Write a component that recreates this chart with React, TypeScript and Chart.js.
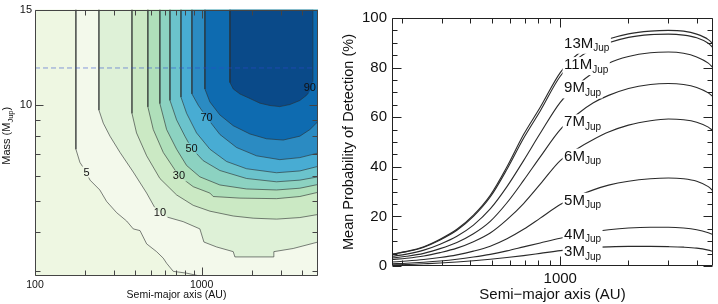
import React, { useEffect, useRef } from "react";
import { Chart, registerables } from "chart.js";

Chart.register(...registerables);

const FONT = "'Liberation Sans', Arial, Helvetica, sans-serif";

// ================= LEFT PANEL (contour map) =================
const leftAURange = [100, 5000];
const leftMassRange = [2.9, 20];
const leftXTickValues = [100, 1000];
const leftXTickLabels = ["100", "1000"];
const leftXMinorTicks = [200, 300, 400, 500, 600, 700, 800, 900, 2000, 3000, 4000];
const leftYTickValues = [10, 20];
const leftYTickLabels = ["10", "15"];
const leftYMinorTicks = [3, 4, 5, 6, 7, 8, 9];

const contourLevels = [5, 10, 20, 30, 40, 50, 60, 70, 80, 90];
const bandBaseColor = "#eef7e2";
const bandColors = [
  "#f3f9eb", "#def1d7", "#cbe9c4", "#afdfba", "#8cd2c1",
  "#6bc3cc", "#48acd3", "#2b8bc2", "#0e6bb0", "#0a4a89",
];

// contour boundaries: [semi-major axis (AU), mass (M_Jup)]
const contour5 = [[176, 20], [176, 7.27], [186, 6.61], [200, 6.23], [214, 5.81], [245, 5.41], [269, 4.98], [309, 4.59], [355, 4.32], [389, 4.08], [427, 4.03], [468, 3.66], [537, 3.46], [589, 3.3], [617, 3.18], [676, 3.0], [813, 2.96], [977, 2.9], [5000, 2.9]];
const contour10 = [[242, 20], [242, 9.65], [257, 8.78], [282, 7.99], [324, 7.1], [389, 6.16], [468, 5.29], [525, 4.75], [617, 4.45], [776, 4.3], [977, 4.08], [1033, 3.71], [1230, 3.58], [1549, 3.46], [1585, 3.33], [2692, 3.33], [2716, 3.46], [3548, 3.54], [5000, 3.71]];
const contour20 = [[382, 20], [382, 9.43], [407, 8.18], [468, 6.93], [562, 5.88], [708, 5.22], [891, 4.84], [1122, 4.64], [1549, 4.48], [2042, 4.41], [2818, 4.38], [3890, 4.43], [5000, 4.53]];
const contour30 = [[476, 20], [476, 9.88], [513, 8.38], [589, 7.1], [731, 5.99], [891, 5.54], [1122, 5.29], [1175, 5.16], [1698, 5.1], [2818, 5.08], [3890, 5.16], [5000, 5.32]];
const contour40 = [[562, 20], [562, 10.12], [617, 8.38], [708, 7.27], [813, 6.46], [977, 5.95], [1288, 5.61], [1862, 5.45], [2818, 5.41], [3890, 5.48], [5000, 5.63]];
const contour50 = [[646, 20], [646, 10.36], [708, 8.99], [794, 7.99], [871, 7.32], [1023, 6.69], [1288, 6.23], [1862, 5.88], [2818, 5.74], [3890, 5.81], [5000, 5.95]];
const contour60 = [[752, 20], [752, 10.61], [813, 9.43], [933, 8.18], [1122, 7.27], [1413, 6.65], [1862, 6.31], [2818, 6.13], [3890, 6.21], [5000, 6.42]];
const contour70 = [[875, 20], [875, 10.86], [955, 10.0], [1072, 9.16], [1288, 8.09], [1622, 7.36], [2138, 6.93], [2951, 6.74], [3890, 6.84], [5000, 7.07]];
const contour80 = [[1047, 20], [1047, 11.25], [1122, 10.24], [1288, 9.32], [1549, 8.62], [1950, 8.12], [2455, 7.84], [3090, 7.77], [3890, 7.99], [4467, 8.38], [5000, 8.89]];
const contour90 = [[1480, 20], [1480, 11.8], [1550, 11.25], [1700, 10.85], [1950, 10.5], [2240, 10.15], [2570, 9.98], [2950, 9.9], [3390, 10.05], [3890, 10.35], [4270, 10.75], [4570, 11.25], [4660, 11.9], [4660, 20]];
const contours = [contour5, contour10, contour20, contour30, contour40, contour50, contour60, contour70, contour80, contour90];

const contourLabelText = ["5", "10", "30", "50", "70", "90"];
const contourLabelAU = [204, 562, 731, 871, 1072, 4467];
const contourLabelMass = [6.16, 4.59, 5.99, 7.32, 9.16, 11.4];

const deuteriumMass = 13.1;

// ================= RIGHT PANEL (mean probability) =================
const rightAURange = [181, 4720];
const rightXTickValues = [1000];
const rightXTickLabels = ["1000"];
const rightXMinorTicks = [200, 300, 400, 500, 600, 700, 800, 900, 2000, 3000, 4000];
const rightYTickValues = [0, 20, 40, 60, 80, 100];
const rightYMinorTicks = [5, 10, 15, 25, 30, 35, 45, 50, 55, 65, 70, 75, 85, 90, 95];

const semiMajorAxis = [181, 210, 250, 295, 350, 414, 491, 582, 689, 816, 1000, 1200, 1400, 1634, 2000, 2500, 3000, 3500, 4000, 4500, 4720];
const prob13 = [4.8, 5.9, 7.8, 10.8, 14.8, 20.5, 28.5, 40, 53, 64, 78, 85.6, 89.2, 91.5, 93.6, 94.7, 95, 94.7, 93.5, 91.3, 89.5];
const prob11 = [4.7, 5.8, 7.6, 10.5, 14.4, 20, 27.8, 39, 51.5, 62.5, 76.5, 83.8, 87.6, 90, 92.2, 93.3, 93.5, 93.1, 92, 89.8, 88];
const prob9 = [3.9, 4.8, 6.4, 8.8, 12, 16.5, 23, 32, 42.5, 53.5, 66, 73.2, 78, 81.8, 84.5, 86, 86.3, 85.8, 84.3, 81.8, 80];
const prob7 = [3.2, 3.9, 5.1, 7, 9.5, 13, 18, 25.5, 34.5, 44, 55, 61.5, 65.8, 68.8, 71.6, 73.2, 73.6, 73.2, 72, 69.8, 68.3];
const prob6 = [2.6, 3.1, 4, 5.4, 7.2, 9.8, 13.3, 18.7, 25.2, 33, 42.5, 47.5, 51, 54, 56.8, 58.6, 59.3, 59, 58, 56, 54.5];
const prob5 = [1.6, 2, 2.6, 3.4, 4.5, 6, 8, 11, 14.8, 19.3, 24.8, 28.3, 30.7, 32.6, 34.2, 35.2, 35.5, 35.2, 34.2, 32, 30.3];
const prob4 = [0.9, 1.1, 1.5, 2, 2.7, 3.6, 4.7, 6.1, 7.7, 9.3, 11.2, 12.7, 13.8, 14.6, 15.3, 15.6, 15.6, 15.3, 14.6, 13.4, 12.7];
const prob3 = [0.5, 0.6, 0.9, 1.2, 1.6, 2.1, 2.7, 3.4, 4.2, 5.1, 6.2, 6.9, 7.4, 7.7, 7.9, 7.9, 7.8, 7.6, 7.2, 6.4, 5.9];
const curveMasses = [13, 11, 9, 7, 6, 5, 4, 3];
const curveProbs = [prob13, prob11, prob9, prob7, prob6, prob5, prob4, prob3];
const curveLabelAU = [1040, 1040, 1040, 1040, 1040, 1040, 1040, 1040];
const curveLabelProb = [88.0, 79.4, 70.0, 56.3, 42.5, 24.7, 10.9, 3.9];

// ================= plugins =================
function frameTicksPlugin(cfg: any) {
  return {
    id: "frameTicks",
    afterDraw(chart: any) {
      const { ctx, chartArea: a } = chart;
      const xs = chart.scales.x;
      const ys = chart.scales.y;
      const L = Math.round(a.left) + 0.5;
      const R = Math.round(a.right) - 0.5;
      const T = Math.round(a.top) + 0.5;
      const B = Math.round(a.bottom) - 0.5;
      ctx.save();
      ctx.strokeStyle = cfg.color;
      ctx.lineWidth = 1;
      ctx.beginPath();
      ctx.rect(L, T, R - L, B - T);
      const xt = (vals: number[], len: number) =>
        vals.forEach((v) => {
          const p = Math.round(xs.getPixelForValue(v)) + 0.5;
          ctx.moveTo(p, B);
          ctx.lineTo(p, B - len);
          ctx.moveTo(p, T);
          ctx.lineTo(p, T + len);
        });
      const yt = (vals: number[], len: number) =>
        vals.forEach((v) => {
          const p = Math.round(ys.getPixelForValue(v)) + 0.5;
          ctx.moveTo(L, p);
          ctx.lineTo(L + len, p);
          ctx.moveTo(R, p);
          ctx.lineTo(R - len, p);
        });
      xt(cfg.xMajor, cfg.major);
      xt(cfg.xMinor, cfg.minor);
      yt(cfg.yMajor, cfg.major);
      yt(cfg.yMinor, cfg.minor);
      ctx.stroke();
      ctx.restore();
    },
  };
}

const areaBackgroundPlugin = {
  id: "areaBg",
  beforeDraw(chart: any) {
    const { ctx, chartArea: a } = chart;
    ctx.save();
    ctx.fillStyle = bandBaseColor;
    ctx.fillRect(a.left, a.top, a.right - a.left, a.bottom - a.top);
    ctx.restore();
  },
};

const CONTOUR_LABEL_FONT = `11px ${FONT}`;

function contourLabelBoxes(chart: any) {
  const { ctx } = chart;
  const xs = chart.scales.x;
  const ys = chart.scales.y;
  ctx.save();
  ctx.font = CONTOUR_LABEL_FONT;
  const boxes = contourLabelText.map((t, i) => {
    const w = ctx.measureText(t).width;
    const cx = xs.getPixelForValue(contourLabelAU[i]);
    const cy = ys.getPixelForValue(contourLabelMass[i]);
    return { t, cx, cy, x: cx - w / 2 - 1.5, y: cy - 5.5, w: w + 3, h: 11 };
  });
  ctx.restore();
  return boxes;
}

// hides contour strokes under the contour labels (the labels sit in gaps of the lines)
const contourGapPlugin = {
  id: "contourGap",
  beforeDatasetDraw(chart: any, args: any) {
    if (args.index >= contours.length) return;
    const { ctx } = chart;
    const boxes = contourLabelBoxes(chart);
    ctx.save();
    ctx.beginPath();
    ctx.rect(0, 0, chart.width, chart.height);
    boxes.forEach((b: any) => ctx.rect(b.x, b.y, b.w, b.h));
    ctx.clip("evenodd");
  },
  afterDatasetDraw(chart: any, args: any) {
    if (args.index >= contours.length) return;
    chart.ctx.restore();
  },
};

const contourLabelPlugin = {
  id: "contourLabels",
  afterDatasetsDraw(chart: any) {
    const { ctx } = chart;
    const boxes = contourLabelBoxes(chart);
    ctx.save();
    ctx.font = CONTOUR_LABEL_FONT;
    ctx.fillStyle = "#111";
    ctx.textAlign = "center";
    ctx.textBaseline = "middle";
    boxes.forEach((b: any) => ctx.fillText(b.t, b.cx, b.cy + 0.5));
    ctx.restore();
  },
};

const leftYTitlePlugin = {
  id: "leftYTitle",
  afterDraw(chart: any) {
    const { ctx, chartArea: a } = chart;
    const cy = (a.top + a.bottom) / 2 - 7;
    const parts: [string, string, number][] = [
      ["Mass (M", `11px ${FONT}`, 0],
      ["Jup", `7.5px ${FONT}`, 2.5],
      [")", `11px ${FONT}`, 0],
    ];
    ctx.save();
    let total = 0;
    const widths = parts.map(([t, f]) => {
      ctx.font = f;
      const w = ctx.measureText(t).width;
      total += w;
      return w;
    });
    ctx.translate(7, cy);
    ctx.rotate(-Math.PI / 2);
    ctx.fillStyle = "#111";
    ctx.textBaseline = "alphabetic";
    let x = -total / 2;
    parts.forEach(([t, f, dy], i) => {
      ctx.font = f;
      ctx.fillText(t, x, 3 + dy);
      x += widths[i];
    });
    ctx.restore();
  },
};

const curveLabelPlugin = {
  id: "curveLabels",
  afterDatasetsDraw(chart: any) {
    const { ctx } = chart;
    const xs = chart.scales.x;
    const ys = chart.scales.y;
    ctx.save();
    curveMasses.forEach((m, i) => {
      const px = xs.getPixelForValue(curveLabelAU[i]);
      const py = ys.getPixelForValue(curveLabelProb[i]);
      const main = `${m}M`;
      ctx.font = `15px ${FONT}`;
      const w1 = ctx.measureText(main).width;
      ctx.font = `10px ${FONT}`;
      const w2 = ctx.measureText("Jup").width;
      ctx.fillStyle = "#fff";
      ctx.fillRect(px - 1.5, py - 12, w1 + w2 + 3, 18);
      ctx.fillStyle = "#111";
      ctx.textBaseline = "alphabetic";
      ctx.textAlign = "left";
      ctx.font = `15px ${FONT}`;
      ctx.fillText(main, px, py);
      ctx.font = `10px ${FONT}`;
      ctx.fillText("Jup", px + w1, py + 3.5);
    });
    ctx.restore();
  },
};

// ================= configs =================
function leftConfig(): any {
  const datasets: any[] = contours.map((pts, i) => ({
    data: pts.map(([x, y]) => ({ x, y })),
    borderColor: "rgba(45,48,48,0.72)",
    borderWidth: 0.85,
    backgroundColor: bandColors[i],
    fill: "end",
    pointRadius: 0,
    tension: 0,
    order: 100 - contourLevels[i],
  }));
  datasets.push({
    data: [
      { x: leftAURange[0], y: deuteriumMass },
      { x: leftAURange[1], y: deuteriumMass },
    ],
    borderColor: "rgba(45,75,205,0.55)",
    borderWidth: 1,
    borderDash: [5, 3],
    fill: false,
    pointRadius: 0,
    order: -1,
  });
  return {
    type: "line",
    data: { datasets },
    options: {
      responsive: false,
      animation: false,
      devicePixelRatio: 1,
      events: [],
      layout: { autoPadding: false, padding: { top: 3, right: 12, left: 0, bottom: 0 } },
      plugins: {
        legend: { display: false },
        tooltip: { enabled: false },
        filler: { drawTime: "beforeDatasetsDraw" },
      },
      scales: {
        x: {
          type: "logarithmic",
          min: leftAURange[0],
          max: leftAURange[1],
          grid: { display: false, drawTicks: false },
          border: { display: false },
          afterBuildTicks: (s: any) => {
            s.ticks = leftXTickValues.map((v) => ({ value: v }));
          },
          afterFit: (s: any) => {
            s.height = 28;
          },
          ticks: {
            autoSkip: false,
            maxRotation: 0,
            padding: 3,
            color: "#111",
            font: { family: FONT, size: 10.5 },
            callback: (_v: any, i: number) => leftXTickLabels[i],
          },
          title: {
            display: true,
            text: "Semi-major axis (AU)",
            color: "#111",
            font: { family: FONT, size: 10.5 },
            padding: { top: 0, bottom: 2.5 },
          },
        },
        y: {
          type: "logarithmic",
          min: leftMassRange[0],
          max: leftMassRange[1],
          grid: { display: false, drawTicks: false },
          border: { display: false },
          afterBuildTicks: (s: any) => {
            s.ticks = leftYTickValues.map((v) => ({ value: v }));
          },
          afterFit: (s: any) => {
            s.width = 35;
          },
          ticks: {
            autoSkip: false,
            padding: 3,
            color: "#111",
            font: { family: FONT, size: 11 },
            callback: (_v: any, i: number) => leftYTickLabels[i],
          },
        },
      },
    },
    plugins: [
      areaBackgroundPlugin,
      contourGapPlugin,
      contourLabelPlugin,
      leftYTitlePlugin,
      frameTicksPlugin({
        color: "#444",
        xMajor: leftXTickValues,
        xMinor: leftXMinorTicks,
        yMajor: [10],
        yMinor: leftYMinorTicks,
        major: 8,
        minor: 5,
      }),
    ],
  };
}

function rightConfig(): any {
  const datasets = curveProbs.map((arr) => ({
    data: semiMajorAxis.map((x, j) => ({ x, y: arr[j] })),
    borderColor: "#2a2a2a",
    borderWidth: 1.1,
    pointRadius: 0,
    fill: false,
    cubicInterpolationMode: "monotone",
  }));
  return {
    type: "line",
    data: { datasets },
    options: {
      responsive: false,
      animation: false,
      devicePixelRatio: 1,
      events: [],
      layout: { autoPadding: false, padding: { top: 18, right: 5, left: 0, bottom: 0 } },
      plugins: { legend: { display: false }, tooltip: { enabled: false } },
      scales: {
        x: {
          type: "logarithmic",
          min: rightAURange[0],
          max: rightAURange[1],
          grid: { display: false, drawTicks: false },
          border: { display: false },
          afterBuildTicks: (s: any) => {
            s.ticks = rightXTickValues.map((v) => ({ value: v }));
          },
          afterFit: (s: any) => {
            s.height = 38;
          },
          ticks: {
            autoSkip: false,
            maxRotation: 0,
            padding: 4,
            color: "#111",
            font: { family: FONT, size: 15 },
            callback: (_v: any, i: number) => rightXTickLabels[i],
          },
          title: {
            display: true,
            text: "Semi\u2212major axis (AU)",
            color: "#111",
            font: { family: FONT, size: 15 },
            padding: { top: 0, bottom: 0 },
          },
        },
        y: {
          type: "linear",
          min: 0,
          max: 100,
          grid: { display: false, drawTicks: false },
          border: { display: false },
          afterBuildTicks: (s: any) => {
            s.ticks = rightYTickValues.map((v) => ({ value: v }));
          },
          afterFit: (s: any) => {
            s.width = 52;
          },
          ticks: {
            autoSkip: false,
            padding: 5,
            color: "#111",
            font: { family: FONT, size: 15 },
            callback: (v: any) => String(v),
          },
          title: {
            display: true,
            text: "Mean Probability of Detection (%)",
            color: "#111",
            font: { family: FONT, size: 14.5 },
            padding: { top: 0.5, bottom: 0 },
          },
        },
      },
    },
    plugins: [
      curveLabelPlugin,
      frameTicksPlugin({
        color: "#222",
        xMajor: rightXTickValues,
        xMinor: rightXMinorTicks,
        yMajor: rightYTickValues,
        yMinor: rightYMinorTicks,
        major: 9,
        minor: 5,
      }),
    ],
  };
}

export default function App() {
  const leftRef = useRef<HTMLCanvasElement>(null);
  const rightRef = useRef<HTMLCanvasElement>(null);
  useEffect(() => {
    const left = new Chart(leftRef.current as HTMLCanvasElement, leftConfig());
    const right = new Chart(rightRef.current as HTMLCanvasElement, rightConfig());
    return () => {
      left.destroy();
      right.destroy();
    };
  }, []);
  return (
    <div style={{ position: "fixed", left: 0, top: 0, width: 718, height: 304, background: "#fff" }}>
      <canvas ref={leftRef} width={330} height={304} style={{ position: "absolute", left: 0, top: 0 }} />
      <canvas ref={rightRef} width={378} height={304} style={{ position: "absolute", left: 340, top: 0 }} />
    </div>
  );
}
